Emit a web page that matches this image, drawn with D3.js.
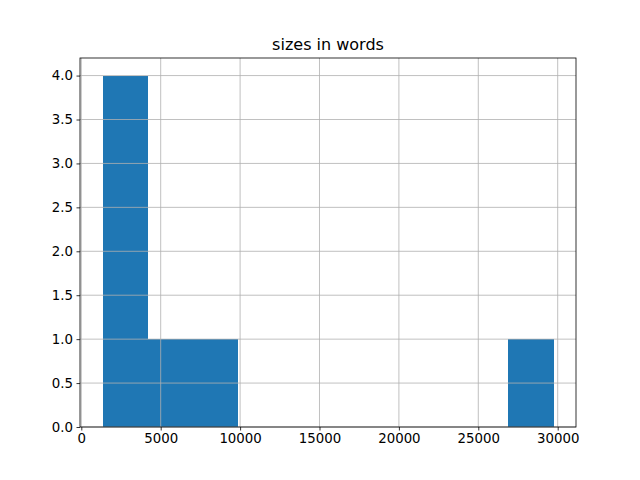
<!DOCTYPE html>
<html>
<head>
<meta charset="utf-8">
<script src="https://cdn.jsdelivr.net/npm/d3@7"></script>
<style>
  body { margin: 0; background: #fff; }
  svg { font-family: "DejaVu Sans", sans-serif; }
</style>
</head>
<body>
<svg width="640" height="480"></svg>
<script>
// histogram bins (edges) and counts
const binEdges = [1338, 4177.5, 7017, 9856.5, 12696, 15535.5, 18375, 21214.5, 24054, 26893.5, 29733];
const counts = [4, 1, 1, 0, 0, 0, 0, 0, 0, 1];
const xTicks = [0, 5000, 10000, 15000, 20000, 25000, 30000];
const yTicks = [0, 0.5, 1, 1.5, 2, 2.5, 3, 3.5, 4];
const title = "sizes in words";

const margin = { left: 80, right: 64, top: 58, bottom: 53 };
const svg = d3.select("svg");
const width = 640, height = 480;
const plotRight = width - margin.right;
const plotBottom = height - margin.bottom;

const span = binEdges[binEdges.length - 1] - binEdges[0];
const x = d3.scaleLinear()
    .domain([binEdges[0] - 0.05 * span, binEdges[binEdges.length - 1] + 0.05 * span])
    .range([margin.left, plotRight]);
const y = d3.scaleLinear()
    .domain([0, d3.max(counts) * 1.05])
    .range([plotBottom, margin.top]);

const bins = counts.map((c, i) => ({ x0: binEdges[i], x1: binEdges[i + 1], count: c }));

svg.append("g")
    .attr("shape-rendering", "crispEdges")
    .selectAll("rect")
    .data(bins.filter(b => b.count > 0))
    .join("rect")
    .attr("x", d => x(d.x0))
    .attr("width", d => x(d.x1) - x(d.x0) + 0.5)
    .attr("y", d => y(d.count))
    .attr("height", d => y(0) - y(d.count))
    .attr("fill", "#1f77b4");

// grid sits above the bars, like matplotlib's default
const grid = svg.append("g").attr("stroke", "#b0b0b0").attr("stroke-width", 0.8);
grid.selectAll(".gx")
    .data(xTicks)
    .join("line")
    .attr("class", "gx")
    .attr("x1", d => x(d)).attr("x2", d => x(d))
    .attr("y1", margin.top).attr("y2", plotBottom);
grid.selectAll(".gy")
    .data(yTicks)
    .join("line")
    .attr("class", "gy")
    .attr("y1", d => y(d)).attr("y2", d => y(d))
    .attr("x1", margin.left).attr("x2", plotRight);

const xAxis = d3.axisBottom(x).tickValues(xTicks).tickFormat(d3.format("d")).tickSize(3.5).tickPadding(3.5);
const yAxis = d3.axisLeft(y).tickValues(yTicks).tickFormat(d3.format(".1f")).tickSize(3.5).tickPadding(3.5);

svg.append("g")
    .attr("transform", `translate(0,${plotBottom})`)
    .call(xAxis)
    .call(g => g.select(".domain").remove());
svg.append("g")
    .attr("transform", `translate(${margin.left},0)`)
    .call(yAxis)
    .call(g => g.select(".domain").remove());

svg.selectAll(".tick text")
    .attr("font-size", 13.33)
    .attr("font-family", "DejaVu Sans")
    .attr("fill", "#000");
svg.selectAll(".tick line").attr("stroke", "#000").attr("stroke-width", 0.8);

svg.append("rect")
    .attr("x", margin.left).attr("y", margin.top)
    .attr("width", plotRight - margin.left)
    .attr("height", plotBottom - margin.top)
    .attr("fill", "none")
    .attr("stroke", "#000")
    .attr("stroke-width", 0.8);

svg.append("text")
    .attr("x", (margin.left + plotRight) / 2)
    .attr("y", margin.top - 8)
    .attr("text-anchor", "middle")
    .attr("font-size", 16)
    .text(title);
</script>
</body>
</html>
